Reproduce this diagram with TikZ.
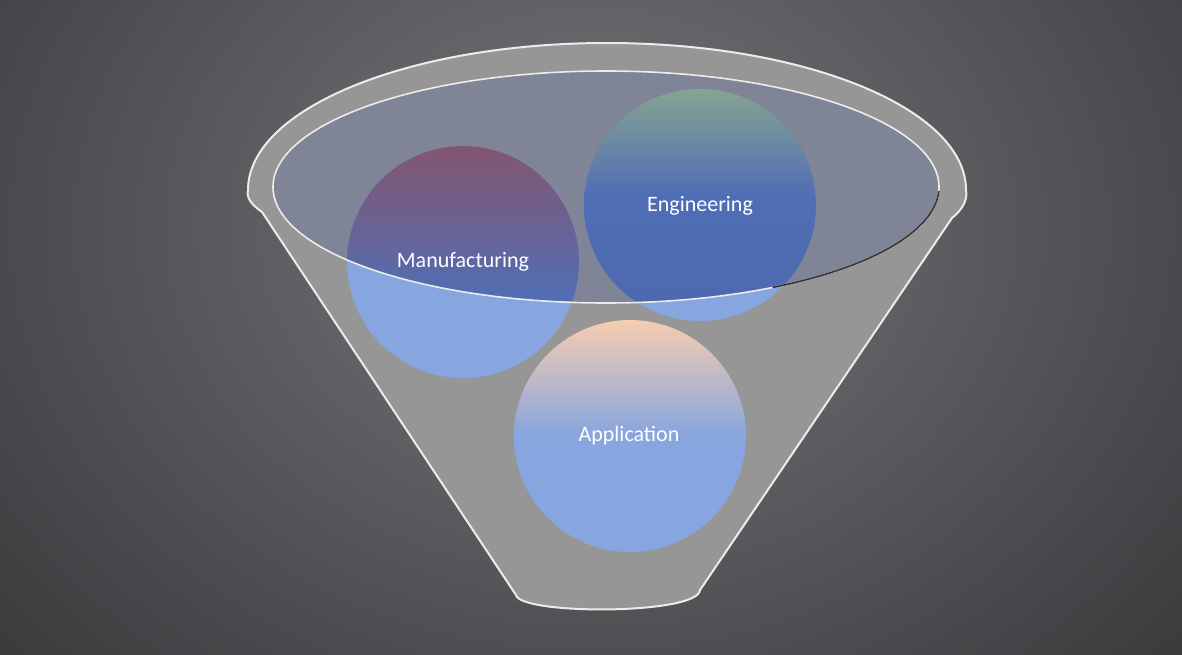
\documentclass[tikz,border=0pt]{standalone}
\usepackage{fontspec}
\setmainfont{Carlito}
\begin{document}
\begin{tikzpicture}[x=0.75pt,y=-0.75pt,
  lbl/.style={text=white,font=\fontsize{16.5}{18}\selectfont},
  ball/.style={circle,minimum size=174pt,inner sep=0pt}]
\definecolor{bgc}{RGB}{118,119,122}
\definecolor{bgd}{RGB}{50,51,53}
\definecolor{fun}{RGB}{150,150,150}
\definecolor{mred}{RGB}{165,55,65}
\definecolor{mblue}{RGB}{55,105,215}
\definecolor{lblue}{RGB}{135,165,222}
\definecolor{egreen}{RGB}{165,215,140}
\definecolor{eblue}{RGB}{50,95,200}
\definecolor{apeach}{RGB}{246,205,175}
\definecolor{slate}{RGB}{105,115,150}
\useasboundingbox (0,0) rectangle (1182,654);
\shade[inner color=bgc,outer color=bgd] (-300,-500) rectangle (1482,954);
% funnel
\draw[white!85!gray,line width=1.5pt,fill=fun]
  (248,190) arc[start angle=180,end angle=360,x radius=359,y radius=147]
  .. controls (968,200) and (962,210) .. (952,218)
  -- (700,590) .. controls (698,615) and (520,615) .. (516,595)
  -- (262,212) .. controls (252,205) and (246,198) .. (248,190) -- cycle;
% Manufacturing
\node[ball,fill=lblue] (m) at (463,262) {};
\begin{scope}
\clip (463,262) circle[radius=116];
\clip (606,187) ellipse[x radius=333,y radius=116];
\shade[top color=mred,bottom color=mblue] (340,140) rectangle (590,300);
\end{scope}
% Engineering
\node[ball,fill=lblue] (e) at (700,205) {};
\begin{scope}
\clip (700,205) circle[radius=116];
\clip (606,187) ellipse[x radius=333,y radius=116];
\shade[top color=egreen,bottom color=eblue,middle color=mblue] (580,88) rectangle (820,303);
\end{scope}
% Application
\node[ball,top color=apeach,bottom color=lblue,middle color=lblue] (a) at (630,436) {};
% inner ellipse overlay
\draw[white!85!gray,line width=1.2pt,fill=slate,fill opacity=0.5] (606,187) ellipse[x radius=333,y radius=116];
\draw[black!80,line width=1.2pt] (606,187) ++(2:333 and 116) arc[start angle=2,end angle=60,x radius=333,y radius=116];
\node[lbl] at (463,262) {Manufacturing};
\node[lbl] at (700,206) {Engineering};
\node[lbl] at (629,436) {Application};
\end{tikzpicture}
\end{document}
